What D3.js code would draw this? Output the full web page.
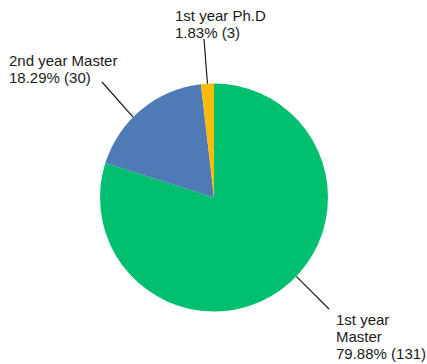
<!DOCTYPE html>
<html><head><meta charset="utf-8">
<script src="https://cdn.jsdelivr.net/npm/d3@7"></script>
<style>body{margin:0;background:#fff}svg{display:block}text{font-family:"Liberation Sans",Arial,sans-serif;font-size:15px;fill:#1a1a1a}</style>
</head><body>
<script>
const categories = ["1st year Master", "2nd year Master", "1st year Ph.D"];
const counts = [131, 30, 3];
const percents = ["79.88%", "18.29%", "1.83%"];
const colors = ["#00BF6F", "#4E7AB5", "#FBBC09"];
const labelLines = [["1st year", "Master", "79.88% (131)"], ["2nd year Master", "18.29% (30)"], ["1st year Ph.D", "1.83% (3)"]];

const W = 427, H = 364, cx = 214, cy = 197.5, R = 114;
// label anchor (x, first baseline) and leader-line outer end / edge angle offset
const labelPos = [[336, 325], [9, 66], [175, 21]];
const leaderOuter = [[329, 309], [102, 82], [204, 39]];
const leaderAngleShift = [-10, -5.7, 0]; // degrees

const svg = d3.select("body").append("svg").attr("width", W).attr("height", H);
const pie = d3.pie().sort(null).value(d => d)(counts);
const arc = d3.arc().innerRadius(0).outerRadius(R);
const g = svg.append("g").attr("transform", `translate(${cx},${cy})`);
g.selectAll("path").data(pie).join("path").attr("d", arc).attr("fill", (d, i) => colors[i]);

pie.forEach((d, i) => {
  const a = (d.startAngle + d.endAngle) / 2 + leaderAngleShift[i] * Math.PI / 180;
  const ex = cx + R * Math.sin(a), ey = cy - R * Math.cos(a);
  svg.append("line").attr("x1", ex).attr("y1", ey).attr("x2", leaderOuter[i][0]).attr("y2", leaderOuter[i][1])
    .attr("stroke", "#1a1a1a").attr("stroke-width", 1.2);
  const t = svg.append("text").attr("x", labelPos[i][0]).attr("y", labelPos[i][1]);
  labelLines[i].forEach((s, j) => t.append("tspan").attr("x", labelPos[i][0]).attr("dy", j ? 17 : 0).text(s));
});
</script>
</body></html>
